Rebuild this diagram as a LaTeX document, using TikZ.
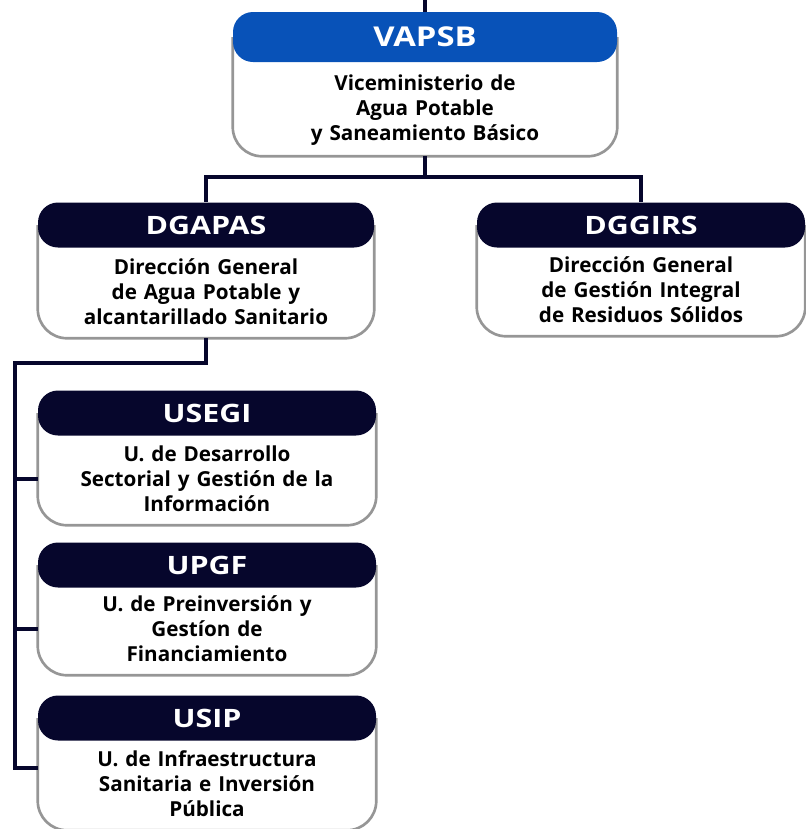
\documentclass[tikz,border=0pt]{standalone}
\usepackage{fontspec}
\setmainfont{Open Sans}
\newfontfamily\headfont{Open Sans}[FakeStretch=1.2]
\usetikzlibrary{positioning,backgrounds}

\definecolor{headblue}{RGB}{8,82,184}
\definecolor{headnavy}{RGB}{6,6,44}
\definecolor{framegray}{RGB}{150,150,150}

\tikzset{
  unithead/.style={fill=headnavy, text=white, rounded corners=15pt,
    minimum height=33.75pt, inner sep=0pt,
    font=\headfont\bfseries\fontsize{19}{22}\selectfont},
  unittext/.style={align=center, text width=230pt, minimum height=69pt,
    inner sep=0pt, font=\bfseries\fontsize{15.5}{18.75}\selectfont},
  unitframe/.style={draw=framegray, line width=2pt, rounded corners=22pt},
  link/.style={draw=headnavy, line width=3pt}
}

\begin{document}
\begin{tikzpicture}[x=0.75pt, y=-0.75pt]
    \useasboundingbox (0,0) rectangle (806,829);

    % ministry on top
    \node[unithead, fill=headblue, minimum width=288pt, minimum height=37.5pt,
      font=\headfont\bfseries\fontsize{20.5}{24}\selectfont] (vapsb) at (425,37) {VAPSB};
    \node[unittext] (vapsbtxt) at (425,110) {Viceministerio de\\ Agua Potable\\ y Saneamiento Básico};

    % two directions
    \node[unithead, minimum width=252pt] (dgapas) at (206,225) {DGAPAS};
    \node[unittext] (dgapastxt) at (206,292) {Dirección General\\ de Agua Potable y\\ alcantarillado Sanitario};

    \node[unithead, minimum width=246pt] (dggirs) at (641,225) {DGGIRS};
    \node[unittext] (dggirstxt) at (641,290) {Dirección General\\ de Gestión Integral\\ de Residuos Sólidos};

    % units below DGAPAS
    \node[unithead, minimum width=253.5pt] (usegi) at (207,413) {USEGI};
    \node[unittext] (usegitxt) at (207,479) {U. de Desarrollo\\ Sectorial y Gestión de la\\ Información};

    \node[unithead, minimum width=253.5pt] (upgf) at (207,565) {UPGF};
    \node[unittext] (upgftxt) at (207,629) {U. de Preinversión y\\ Gestíon de\\ Financiamiento};

    \node[unithead, minimum width=253.5pt] (usip) at (207,718) {USIP};
    \node[unittext] (usiptxt) at (207,784) {U. de Infraestructura\\ Sanitaria e Inversión\\ Pública};

    \begin{scope}[on background layer]
      \draw[unitframe] (vapsb.west) |- (vapsbtxt.south) -| (vapsb.east);
      \draw[unitframe] (dgapas.west) |- (dgapastxt.south) -| (dgapas.east);
      \draw[unitframe] (dggirs.west) |- (dggirstxt.south) -| (dggirs.east);
      \draw[unitframe] (usegi.west) |- (usegitxt.south) -| (usegi.east);
      \draw[unitframe] (upgf.west) |- (upgftxt.south) -| (upgf.east);
      \draw[unitframe] (usip.west) |- (usiptxt.south) -| (usip.east);
    \end{scope}

    % connectors
    \coordinate (top) at (425,0);
    \coordinate (split) at (425,177);
    \coordinate (rail) at (15,363);
    \draw[link] (top) -- (vapsb);
    \draw[link] (vapsbtxt.south) -- (split) -| (dgapas.north);
    \draw[link] (split) -| (dggirs.north);
    \draw[link] (dgapastxt.south) |- (rail) |- ([yshift=12pt]usiptxt.west -| usip.west);
    \draw[link] (rail) |- (usegitxt.west -| usegi.west);
    \draw[link] (rail) |- (upgftxt.west -| upgf.west);
\end{tikzpicture}
\end{document}
